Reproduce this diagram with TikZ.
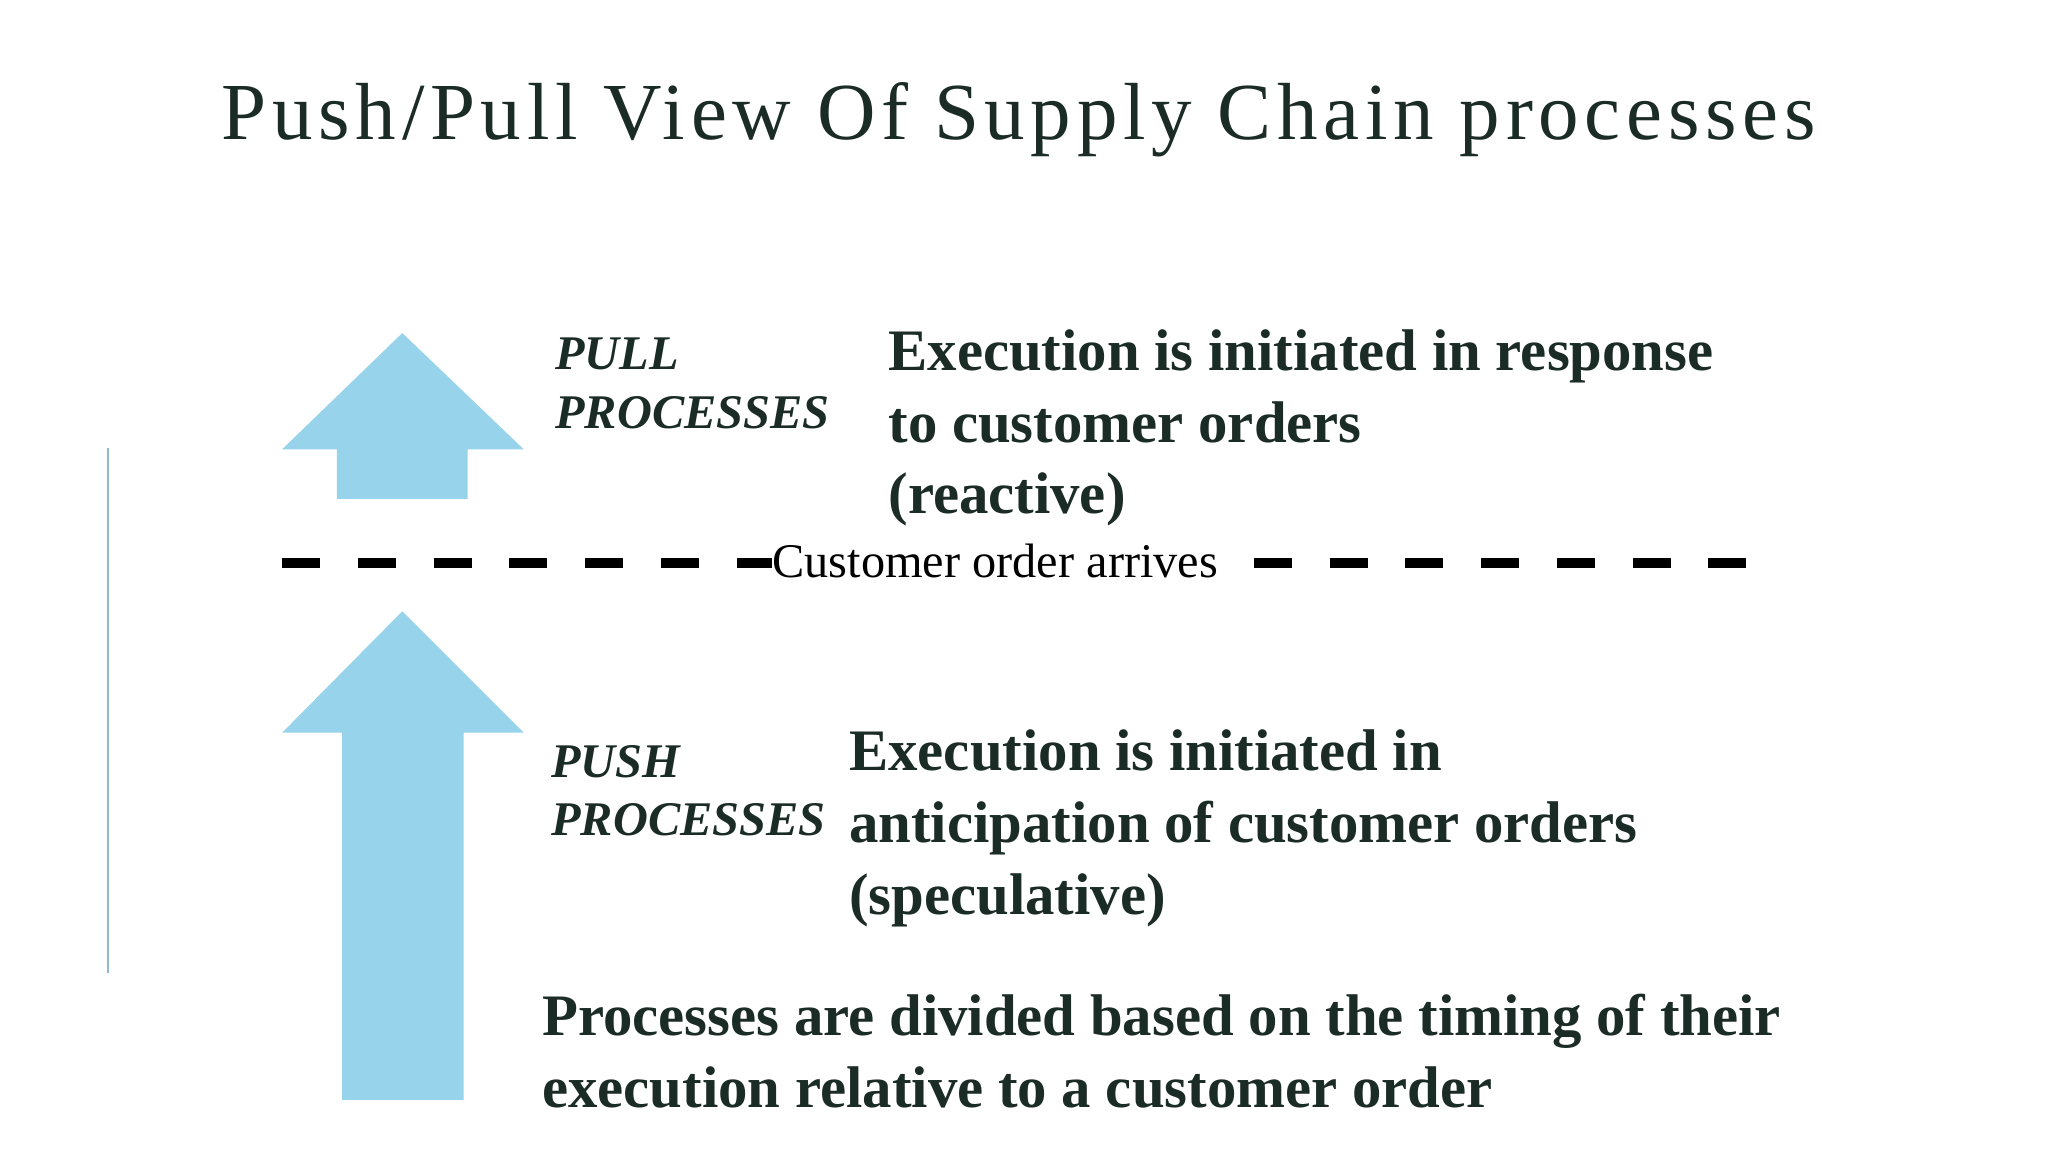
\documentclass[tikz,border=0pt]{standalone}
\usepackage{fontspec}
\setmainfont{Liberation Serif}
\definecolor{arrowblue}{HTML}{97D3EB}
\definecolor{inkdark}{HTML}{1B2B26}
\tikzset{
  body/.style = {anchor=base west, inner sep=0pt, text=inkdark, font=\bfseries\fontsize{45}{45}\selectfont},
  tag/.style = {anchor=base west, inner sep=0pt, text=inkdark, font=\bfseries\itshape\fontsize{37}{37}\selectfont},
  divider/.style = {line width=7pt, dash pattern=on 29pt off 29pt}
}
\begin{document}
\begin{tikzpicture}[x=1pt, y=-1pt]
  \useasboundingbox (0,0) rectangle (1568,882);
  % title
  \node[anchor=base, inner sep=0pt, text=inkdark,
    font=\fontsize{62}{62}\selectfont\addfontfeature{LetterSpace=7}] (title) at (780,107)
    {Push/Pull View Of Supply Chain processes};
  % side rule
  \draw[arrowblue!70!gray, line width=1.5pt] (83,343) -- (83,745);
  % arrows
  \fill[arrowblue] (308,255) -- (401,344) -- (358,344) -- (358,382)
    -- (258,382) -- (258,344) -- (216,344) -- cycle;
  \fill[arrowblue] (308,468) -- (401,561) -- (355,561) -- (355,842)
    -- (262,842) -- (262,561) -- (216,561) -- cycle;
  % divider
  \node[anchor=base, inner sep=0pt, text=black, font=\fontsize{37}{37}\selectfont] (order) at (762,442) {Customer order arrives};
  \coordinate (dl) at (216,431);
  \coordinate (dr) at (1340,431);
  \draw[divider] (dl) -- (order.west |- dl);
  \draw[divider] (960,431) -- (dr);
  % pull
  \node[tag] (pull) at (425,283) {PULL};
  \node[tag] (pullp) at (425,328) {PROCESSES};
  \node[body] (pull1) at (680,284) {Execution is initiated in response};
  \node[body] (pull2) at (680,339) {to customer orders};
  \node[body] (pull3) at (680,393) {(reactive)};
  % push
  \node[tag] (push) at (422,595) {PUSH};
  \node[tag] (pushp) at (422,640) {PROCESSES};
  \node[body] (push1) at (650,590) {Execution is initiated in};
  \node[body] (push2) at (650,645) {anticipation of customer orders};
  \node[body] (push3) at (650,700) {(speculative)};
  % summary
  \node[body] (sum1) at (415,793) {Processes are divided based on the timing of their};
  \node[body] (sum2) at (415,848) {execution relative to a customer order};
\end{tikzpicture}
\end{document}
